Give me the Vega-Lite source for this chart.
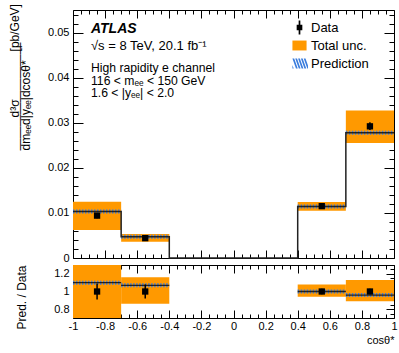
{
  "$schema": "https://vega.github.io/schema/vega-lite/v6.json",
  "padding": {"left": 7, "top": 3, "right": 6, "bottom": 5},
  "spacing": 7,
  "bounds": "flush",
  "config": {
    "font": "Liberation Sans",
    "view": {"stroke": "black", "strokeWidth": 1},
    "axis": {"grid": false, "domain": false, "tickColor": "black", "tickWidth": 1, "labelColor": "black", "labelFont": "Liberation Sans", "labelFontSize": 11, "labelOverlap": false, "labelFlush": false, "labelBound": false, "titleColor": "black", "titleFont": "Liberation Sans", "titleFontWeight": "normal", "minExtent": 0}
  },
  "resolve": {"scale": {"color": "independent"}, "legend": {"color": "independent"}},
  "datasets": {
    "bins": [
      {"lo": -1, "hi": -0.7, "xc": -0.85, "pred": 0.0103, "ulo": 0.0062, "uhi": 0.0125, "data": 0.0094, "dlo": 0.0088, "dhi": 0.0100, "rpred": 1.10, "rulo": 0.70, "ruhi": 1.35, "rdlo": 0.91, "rdhi": 1.09},
      {"lo": -0.7, "hi": -0.4, "xc": -0.55, "pred": 0.0047, "ulo": 0.0036, "uhi": 0.0053, "data": 0.0044, "dlo": 0.0041, "dhi": 0.0047, "rpred": 1.07, "rulo": 0.86, "ruhi": 1.16, "rdlo": 0.92, "rdhi": 1.08},
      {"lo": 0.4, "hi": 0.7, "xc": 0.55, "pred": 0.0114, "ulo": 0.0105, "uhi": 0.0124, "data": 0.0115, "dlo": 0.0112, "dhi": 0.0118, "rpred": 1.0, "rulo": 0.94, "ruhi": 1.08, "rdlo": 0.97, "rdhi": 1.03},
      {"lo": 0.7, "hi": 1, "xc": 0.85, "pred": 0.0278, "ulo": 0.0255, "uhi": 0.0327, "data": 0.0292, "dlo": 0.0284, "dhi": 0.0301, "rpred": 0.96, "rulo": 0.89, "ruhi": 1.13, "rdlo": 0.97, "rdhi": 1.03}
    ],
    "step": [
      {"x": -1, "y": 0.0103},
      {"x": -0.7, "y": 0.0047},
      {"x": -0.4, "y": 0},
      {"x": 0.4, "y": 0.0114},
      {"x": 0.7, "y": 0.0278},
      {"x": 1, "y": 0.0278}
    ]
  },
  "vconcat": [
    {
      "width": 321,
      "height": 248,
      "data": {"name": "bins"},
      "resolve": {"axis": {"x": "independent", "y": "independent"}},
      "layer": [
        {
          "mark": {"type": "rect", "clip": true},
          "encoding": {
            "x": {"field": "lo", "type": "quantitative", "scale": {"domain": [-1, 1]},
              "axis": {"orient": "bottom", "labels": false, "title": null,
                "values": [-1,-0.95,-0.9,-0.85,-0.8,-0.75,-0.7,-0.65,-0.6,-0.55,-0.5,-0.45,-0.4,-0.35,-0.3,-0.25,-0.2,-0.15,-0.1,-0.05,0,0.05,0.1,0.15,0.2,0.25,0.3,0.35,0.4,0.45,0.5,0.55,0.6,0.65,0.7,0.75,0.8,0.85,0.9,0.95,1],
                "tickSize": {"condition": {"test": "abs(datum.value*5-round(datum.value*5))<1e-6", "value": -8}, "value": -4}}},
            "x2": {"field": "hi"},
            "y": {"field": "ulo", "type": "quantitative", "scale": {"domain": [0, 0.055]},
              "axis": {"orient": "left",
                "values": [0,0.002,0.004,0.006,0.008,0.01,0.012,0.014,0.016,0.018,0.02,0.022,0.024,0.026,0.028,0.03,0.032,0.034,0.036,0.038,0.04,0.042,0.044,0.046,0.048,0.05,0.052,0.054],
                "labelExpr": "abs(datum.value*100-round(datum.value*100))<1e-6 ? format(datum.value,'~g') : ''",
                "tickSize": {"condition": {"test": "abs(datum.value*100-round(datum.value*100))<1e-6", "value": -10}, "value": -5},
                "labelPadding": 14,
                "title": ["\u2800\u2800\u2800\u2002d³σ\u2003\u2003\u2003\u2003[pb/GeV]", "―――――――――", "dmₑₑd|yₑₑ|dcosθ*"],
                "titleFontSize": 12, "titleAngle": -90, "titleAlign": "left", "titleBaseline": "alphabetic",
                "titleX": -55, "titleY": 140, "titleLineHeight": 5.5}},
            "y2": {"field": "uhi"},
            "color": {"datum": "Total unc.",
              "scale": {"domain": ["Data", "Total unc.", "Prediction"], "range": ["black", "#ff9900", "#3b7ddd"]},
              "legend": {"title": null, "orient": "none", "legendX": 219, "legendY": 10, "padding": 0,
                "labelFontSize": 13, "labelFont": "Liberation Sans", "labelColor": "black",
                "symbolSize": 200, "rowPadding": 3, "labelOffset": 4, "symbolStrokeWidth": 0, "symbolOpacity": 1,
                "encode": {"symbols": {"update": {
                  "shape": {"signal": "datum.value === 'Data' ? 'M-0.4,-0.4H0.4V0.4H-0.4Z M-0.12,-1H0.12V1H-0.12Z' : datum.value === 'Total unc.' ? 'M-1,-0.7H1V0.7H-1Z' : 'M-1,-0.7h0.25l0.5,1.4h-0.25Z M-0.6,-0.7h0.25l0.5,1.4h-0.25Z M-0.2,-0.7h0.25l0.5,1.4h-0.25Z M0.2,-0.7h0.25l0.5,1.4h-0.25Z M0.6,-0.7h0.25l0.35,0.98v0.42h-0.1Z M-1,0.2l0.18,0.5h-0.18Z'"},
                  "fill": {"signal": "datum.value === 'Data' ? 'black' : datum.value === 'Total unc.' ? '#ff9900' : '#3b7ddd'"},
                  "fillOpacity": {"value": 1},
                  "strokeWidth": {"value": 0}
                }}}}}
          }
        },
        {
          "mark": {"type": "rule", "color": "#3b7ddd", "strokeWidth": 4, "strokeDash": [1.5, 1.5]},
          "encoding": {
            "x": {"field": "lo", "type": "quantitative", "axis": null},
            "x2": {"field": "hi"},
            "y": {"field": "pred", "type": "quantitative", "axis": null}
          }
        },
        {
          "data": {"name": "step"},
          "mark": {"type": "line", "interpolate": "step-after", "color": "#222222", "strokeWidth": 1.5},
          "encoding": {
            "x": {"field": "x", "type": "quantitative", "axis": null},
            "y": {"field": "y", "type": "quantitative", "axis": null}
          }
        },
        {
          "mark": {"type": "rule", "color": "black", "strokeWidth": 1.5},
          "encoding": {
            "x": {"field": "xc", "type": "quantitative", "axis": null},
            "y": {"field": "dlo", "type": "quantitative", "axis": null},
            "y2": {"field": "dhi"}
          }
        },
        {
          "mark": {"type": "point", "shape": "square", "filled": true, "size": 40, "color": "black", "opacity": 1},
          "encoding": {
            "x": {"field": "xc", "type": "quantitative",
              "axis": {"orient": "top", "labels": false, "title": null,
                "values": [-1,-0.95,-0.9,-0.85,-0.8,-0.75,-0.7,-0.65,-0.6,-0.55,-0.5,-0.45,-0.4,-0.35,-0.3,-0.25,-0.2,-0.15,-0.1,-0.05,0,0.05,0.1,0.15,0.2,0.25,0.3,0.35,0.4,0.45,0.5,0.55,0.6,0.65,0.7,0.75,0.8,0.85,0.9,0.95,1],
                "tickSize": {"condition": {"test": "abs(datum.value*5-round(datum.value*5))<1e-6", "value": -8}, "value": -4}}},
            "y": {"field": "data", "type": "quantitative",
              "axis": {"orient": "right", "labels": false, "title": null,
                "values": [0,0.002,0.004,0.006,0.008,0.01,0.012,0.014,0.016,0.018,0.02,0.022,0.024,0.026,0.028,0.03,0.032,0.034,0.036,0.038,0.04,0.042,0.044,0.046,0.048,0.05,0.052,0.054],
                "tickSize": {"condition": {"test": "abs(datum.value*100-round(datum.value*100))<1e-6", "value": -10}, "value": -5}}}
          }
        },
        {
          "data": {"values": [{}]},
          "mark": {"type": "text", "text": "ATLAS", "align": "left", "baseline": "alphabetic", "fontSize": 14, "fontStyle": "italic", "fontWeight": "bold", "font": "Liberation Sans", "color": "black"},
          "encoding": {"x": {"datum": -0.888, "type": "quantitative", "axis": null}, "y": {"datum": 0.05, "type": "quantitative", "axis": null}}
        },
        {
          "data": {"values": [{}]},
          "mark": {"type": "text", "text": "√s = 8 TeV, 20.1 fb⁻¹", "align": "left", "baseline": "alphabetic", "fontSize": 13, "font": "Liberation Sans", "color": "black"},
          "encoding": {"x": {"datum": -0.888, "type": "quantitative", "axis": null}, "y": {"datum": 0.0462, "type": "quantitative", "axis": null}}
        },
        {
          "data": {"values": [{}]},
          "mark": {"type": "text", "text": "High rapidity e channel", "align": "left", "baseline": "alphabetic", "fontSize": 12.2, "font": "Liberation Sans", "color": "black"},
          "encoding": {"x": {"datum": -0.888, "type": "quantitative", "axis": null}, "y": {"datum": 0.0413, "type": "quantitative", "axis": null}}
        },
        {
          "data": {"values": [{}]},
          "mark": {"type": "text", "text": "116 < mₑₑ < 150 GeV", "align": "left", "baseline": "alphabetic", "fontSize": 12.2, "font": "Liberation Sans", "color": "black"},
          "encoding": {"x": {"datum": -0.888, "type": "quantitative", "axis": null}, "y": {"datum": 0.0384, "type": "quantitative", "axis": null}}
        },
        {
          "data": {"values": [{}]},
          "mark": {"type": "text", "text": "1.6 < |yₑₑ| < 2.0", "align": "left", "baseline": "alphabetic", "fontSize": 12.2, "font": "Liberation Sans", "color": "black"},
          "encoding": {"x": {"datum": -0.888, "type": "quantitative", "axis": null}, "y": {"datum": 0.0356, "type": "quantitative", "axis": null}}
        }
      ]
    },
    {
      "width": 321,
      "height": 53,
      "data": {"name": "bins"},
      "resolve": {"axis": {"x": "independent", "y": "independent"}},
      "layer": [
        {
          "mark": {"type": "rect", "clip": true, "color": "#ff9900"},
          "encoding": {
            "x": {"field": "lo", "type": "quantitative", "scale": {"domain": [-1, 1]},
              "axis": {"orient": "bottom",
                "values": [-1,-0.95,-0.9,-0.85,-0.8,-0.75,-0.7,-0.65,-0.6,-0.55,-0.5,-0.45,-0.4,-0.35,-0.3,-0.25,-0.2,-0.15,-0.1,-0.05,0,0.05,0.1,0.15,0.2,0.25,0.3,0.35,0.4,0.45,0.5,0.55,0.6,0.65,0.7,0.75,0.8,0.85,0.9,0.95,1],
                "labelExpr": "abs(datum.value*5-round(datum.value*5))<1e-6 ? replace(format(datum.value,'~g'),'−','-') : ''",
                "tickSize": {"condition": {"test": "abs(datum.value*5-round(datum.value*5))<1e-6", "value": -8}, "value": -4},
                "labelPadding": 10,
                "title": "cosθ*", "titleFontSize": 11, "titleAlign": "right", "titleBaseline": "alphabetic", "titleX": 321, "titleY": 25}},
            "x2": {"field": "hi"},
            "y": {"field": "rulo", "type": "quantitative", "scale": {"domain": [0.74, 1.3]},
              "axis": {"orient": "left",
                "values": [0.75,0.8,0.85,0.9,0.95,1,1.05,1.1,1.15,1.2,1.25,1.3],
                "labelExpr": "abs(datum.value*5-round(datum.value*5))<1e-6 ? format(datum.value,'~g') : ''",
                "tickSize": {"condition": {"test": "abs(datum.value*5-round(datum.value*5))<1e-6", "value": -8}, "value": -4},
                "labelPadding": 12,
                "title": "Pred. / Data", "titleFontSize": 12, "titleAngle": -90, "titleAlign": "center", "titleBaseline": "alphabetic", "titleX": -48, "titleY": 32}},
            "y2": {"field": "ruhi"}
          }
        },
        {
          "mark": {"type": "rule", "color": "#3b7ddd", "strokeWidth": 4, "strokeDash": [1.5, 1.5]},
          "encoding": {
            "x": {"field": "lo", "type": "quantitative", "axis": null},
            "x2": {"field": "hi"},
            "y": {"field": "rpred", "type": "quantitative", "axis": null}
          }
        },
        {
          "mark": {"type": "rule", "color": "#222222", "strokeWidth": 1.3},
          "encoding": {
            "x": {"field": "lo", "type": "quantitative", "axis": null},
            "x2": {"field": "hi"},
            "y": {"field": "rpred", "type": "quantitative", "axis": null}
          }
        },
        {
          "mark": {"type": "rule", "color": "black", "strokeWidth": 1.5},
          "encoding": {
            "x": {"field": "xc", "type": "quantitative",
              "axis": {"orient": "top", "labels": false, "title": null,
                "values": [-1,-0.95,-0.9,-0.85,-0.8,-0.75,-0.7,-0.65,-0.6,-0.55,-0.5,-0.45,-0.4,-0.35,-0.3,-0.25,-0.2,-0.15,-0.1,-0.05,0,0.05,0.1,0.15,0.2,0.25,0.3,0.35,0.4,0.45,0.5,0.55,0.6,0.65,0.7,0.75,0.8,0.85,0.9,0.95,1],
                "tickSize": {"condition": {"test": "abs(datum.value*5-round(datum.value*5))<1e-6", "value": -8}, "value": -4}}},
            "y": {"field": "rdlo", "type": "quantitative",
              "axis": {"orient": "right", "labels": false, "title": null,
                "values": [0.75,0.8,0.85,0.9,0.95,1,1.05,1.1,1.15,1.2,1.25,1.3],
                "tickSize": {"condition": {"test": "abs(datum.value*5-round(datum.value*5))<1e-6", "value": -8}, "value": -4}}},
            "y2": {"field": "rdhi"}
          }
        },
        {
          "mark": {"type": "point", "shape": "square", "filled": true, "size": 40, "color": "black", "opacity": 1},
          "encoding": {
            "x": {"field": "xc", "type": "quantitative", "axis": null},
            "y": {"datum": 1, "type": "quantitative", "axis": null}
          }
        }
      ]
    }
  ]
}
